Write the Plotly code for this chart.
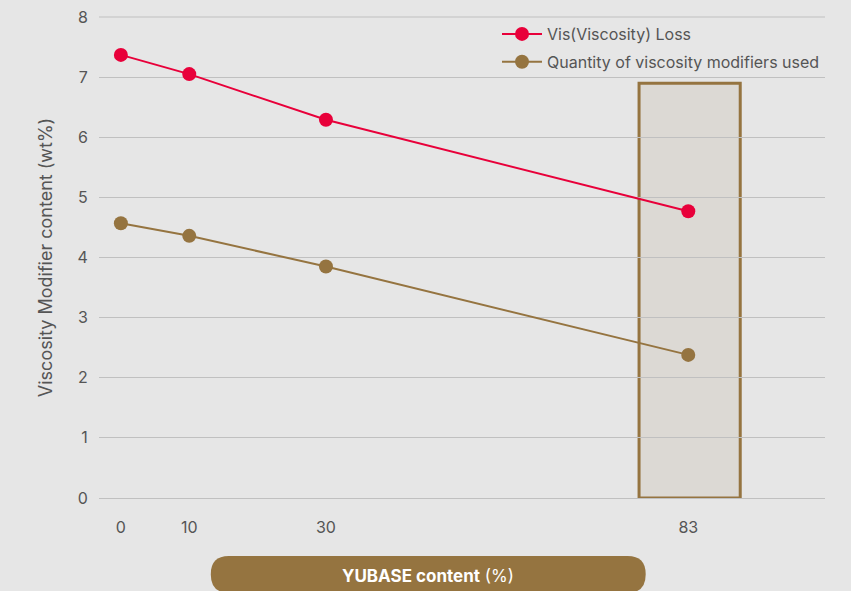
import plotly.graph_objects as go

yubase_pct = [0, 10, 30, 83]
vis_loss = [7.37, 7.05, 6.29, 4.77]
vm_used = [4.57, 4.36, 3.85, 2.38]
x_ticks = [0, 10, 30, 83]
y_ticks = [0, 1, 2, 3, 4, 5, 6, 7, 8]
highlight_x = [75.8, 90.6]
highlight_top = 6.9

RED = "#e8003a"
BROWN = "#957440"
BG = "#e6e6e6"
FONT = "Inter"
TXT = "#555555"
GRID = "#c0c0c0"

fig = go.Figure()
fig.add_trace(go.Scatter(x=yubase_pct, y=vis_loss, mode="lines+markers",
                         name="Vis(Viscosity) Loss", legendgroup="a",
                         line=dict(color=RED, width=2),
                         marker=dict(color=RED, size=14)))
fig.add_trace(go.Scatter(x=yubase_pct, y=vm_used, mode="lines+markers",
                         name="Quantity of viscosity modifiers used", legendgroup="b",
                         line=dict(color=BROWN, width=2),
                         marker=dict(color=BROWN, size=14)))

fig.add_shape(type="rect", xref="x", yref="y",
              x0=highlight_x[0], x1=highlight_x[1], y0=0, y1=highlight_top,
              fillcolor="#dcd9d4", line=dict(color=BROWN, width=3), layer="below")

# top gridline at the range edge (plotly drops edge gridlines)
fig.add_shape(type="line", xref="paper", yref="paper", x0=0, x1=1, y0=1, y1=1,
              line=dict(color=GRID, width=1), layer="below")

# rounded pill for x-axis title
x0, x1 = 0.154, 0.753
y0, y1 = -0.197, -0.1206
rx = 18 / 726
ry = 18 / 481
path = (f"M {x0+rx},{y1} L {x1-rx},{y1} Q {x1},{y1} {x1},{y1-ry} "
        f"L {x1},{y0+ry} Q {x1},{y0} {x1-rx},{y0} L {x0+rx},{y0} "
        f"Q {x0},{y0} {x0},{y0+ry} L {x0},{y1-ry} Q {x0},{y1} {x0+rx},{y1} Z")
fig.add_shape(type="path", xref="paper", yref="paper", path=path,
              fillcolor=BROWN, line=dict(width=0), layer="above")
fig.add_annotation(xref="paper", yref="paper", x=(x0 + x1) / 2, y=-0.163,
                   text="<b>YUBASE content</b> (%)", showarrow=False,
                   font=dict(family=FONT, size=17, color="white"),
                   xanchor="center", yanchor="middle")

fig.update_layout(
    width=851, height=591,
    margin=dict(l=99, r=26, t=17, b=93, autoexpand=False),
    paper_bgcolor=BG, plot_bgcolor=BG,
    font=dict(family=FONT, size=16, color=TXT),
    showlegend=True,
    legend=dict(x=1.0, y=1.0, xanchor="right", yanchor="top",
                bgcolor="rgba(0,0,0,0)", font=dict(size=16, color=TXT),
                tracegroupgap=4, itemwidth=40),
)
fig.update_xaxes(range=[-3.2, 103], tickvals=x_ticks, ticktext=[str(v) for v in x_ticks],
                 showgrid=False, zeroline=False, showline=False, automargin=False,
                 ticks="outside", ticklen=15, tickcolor="rgba(0,0,0,0)",
                 tickfont=dict(size=16, color=TXT))
fig.update_yaxes(range=[0, 8], tickvals=y_ticks, showgrid=True, gridcolor=GRID,
                 gridwidth=1, zeroline=True, zerolinecolor=GRID, zerolinewidth=1,
                 showline=False, automargin=False, ticks="outside", ticklen=7,
                 tickcolor="rgba(0,0,0,0)",
                 tickfont=dict(size=16, color=TXT),
                 title=dict(text="Viscosity Modifier content (wt%)", standoff=20,
                            font=dict(size=18, color=TXT)))

fig.write_html("out.html", config={"displayModeBar": False},
               post_script="document.body.style.margin='0';document.body.style.overflow='hidden';")
